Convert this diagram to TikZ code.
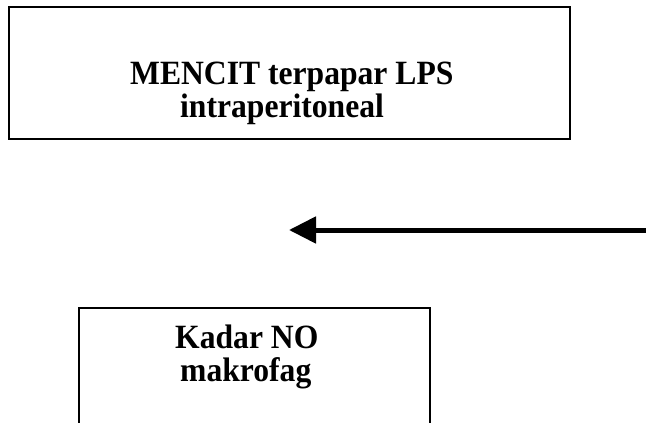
\documentclass[tikz,border=0pt]{standalone}
\usepackage{fontspec}
\setmainfont{Liberation Serif}
\newfontfamily\lblfont[FakeStretch=0.93]{Liberation Serif}
\usetikzlibrary{arrows.meta}
\begin{document}
\begin{tikzpicture}[x=1pt,y=-1pt,
  boxstyle/.style={draw, line width=2pt, inner sep=0pt, anchor=north west},
  lbl/.style={font=\lblfont\fontsize{34}{40}\selectfont\bfseries, anchor=base west, inner sep=0pt},
  arrowline/.style={line width=5pt, -{Triangle[length=27pt,width=26pt]}}]
\useasboundingbox (0,0) rectangle (646,423);
\clip (0,0) rectangle (646,423);
\node[boxstyle, minimum width=561pt, minimum height=132pt] (top) at (8,6.3) {};
\node[boxstyle, minimum width=350.5pt, minimum height=160pt] (bottom) at (78,306.5) {};
\node[lbl] (t1) at (130,84) {MENCIT terpapar LPS};
\node[lbl] (t2) at (180,117) {intraperitoneal};
\node[lbl] (b1) at (175,348) {Kadar NO};
\node[lbl] (b2) at (180,381) {makrofag};
\coordinate (arrstart) at (647,230);
\coordinate (arrtip) at (289,230);
\draw[arrowline] (arrstart) -- (arrtip);
\end{tikzpicture}
\end{document}
